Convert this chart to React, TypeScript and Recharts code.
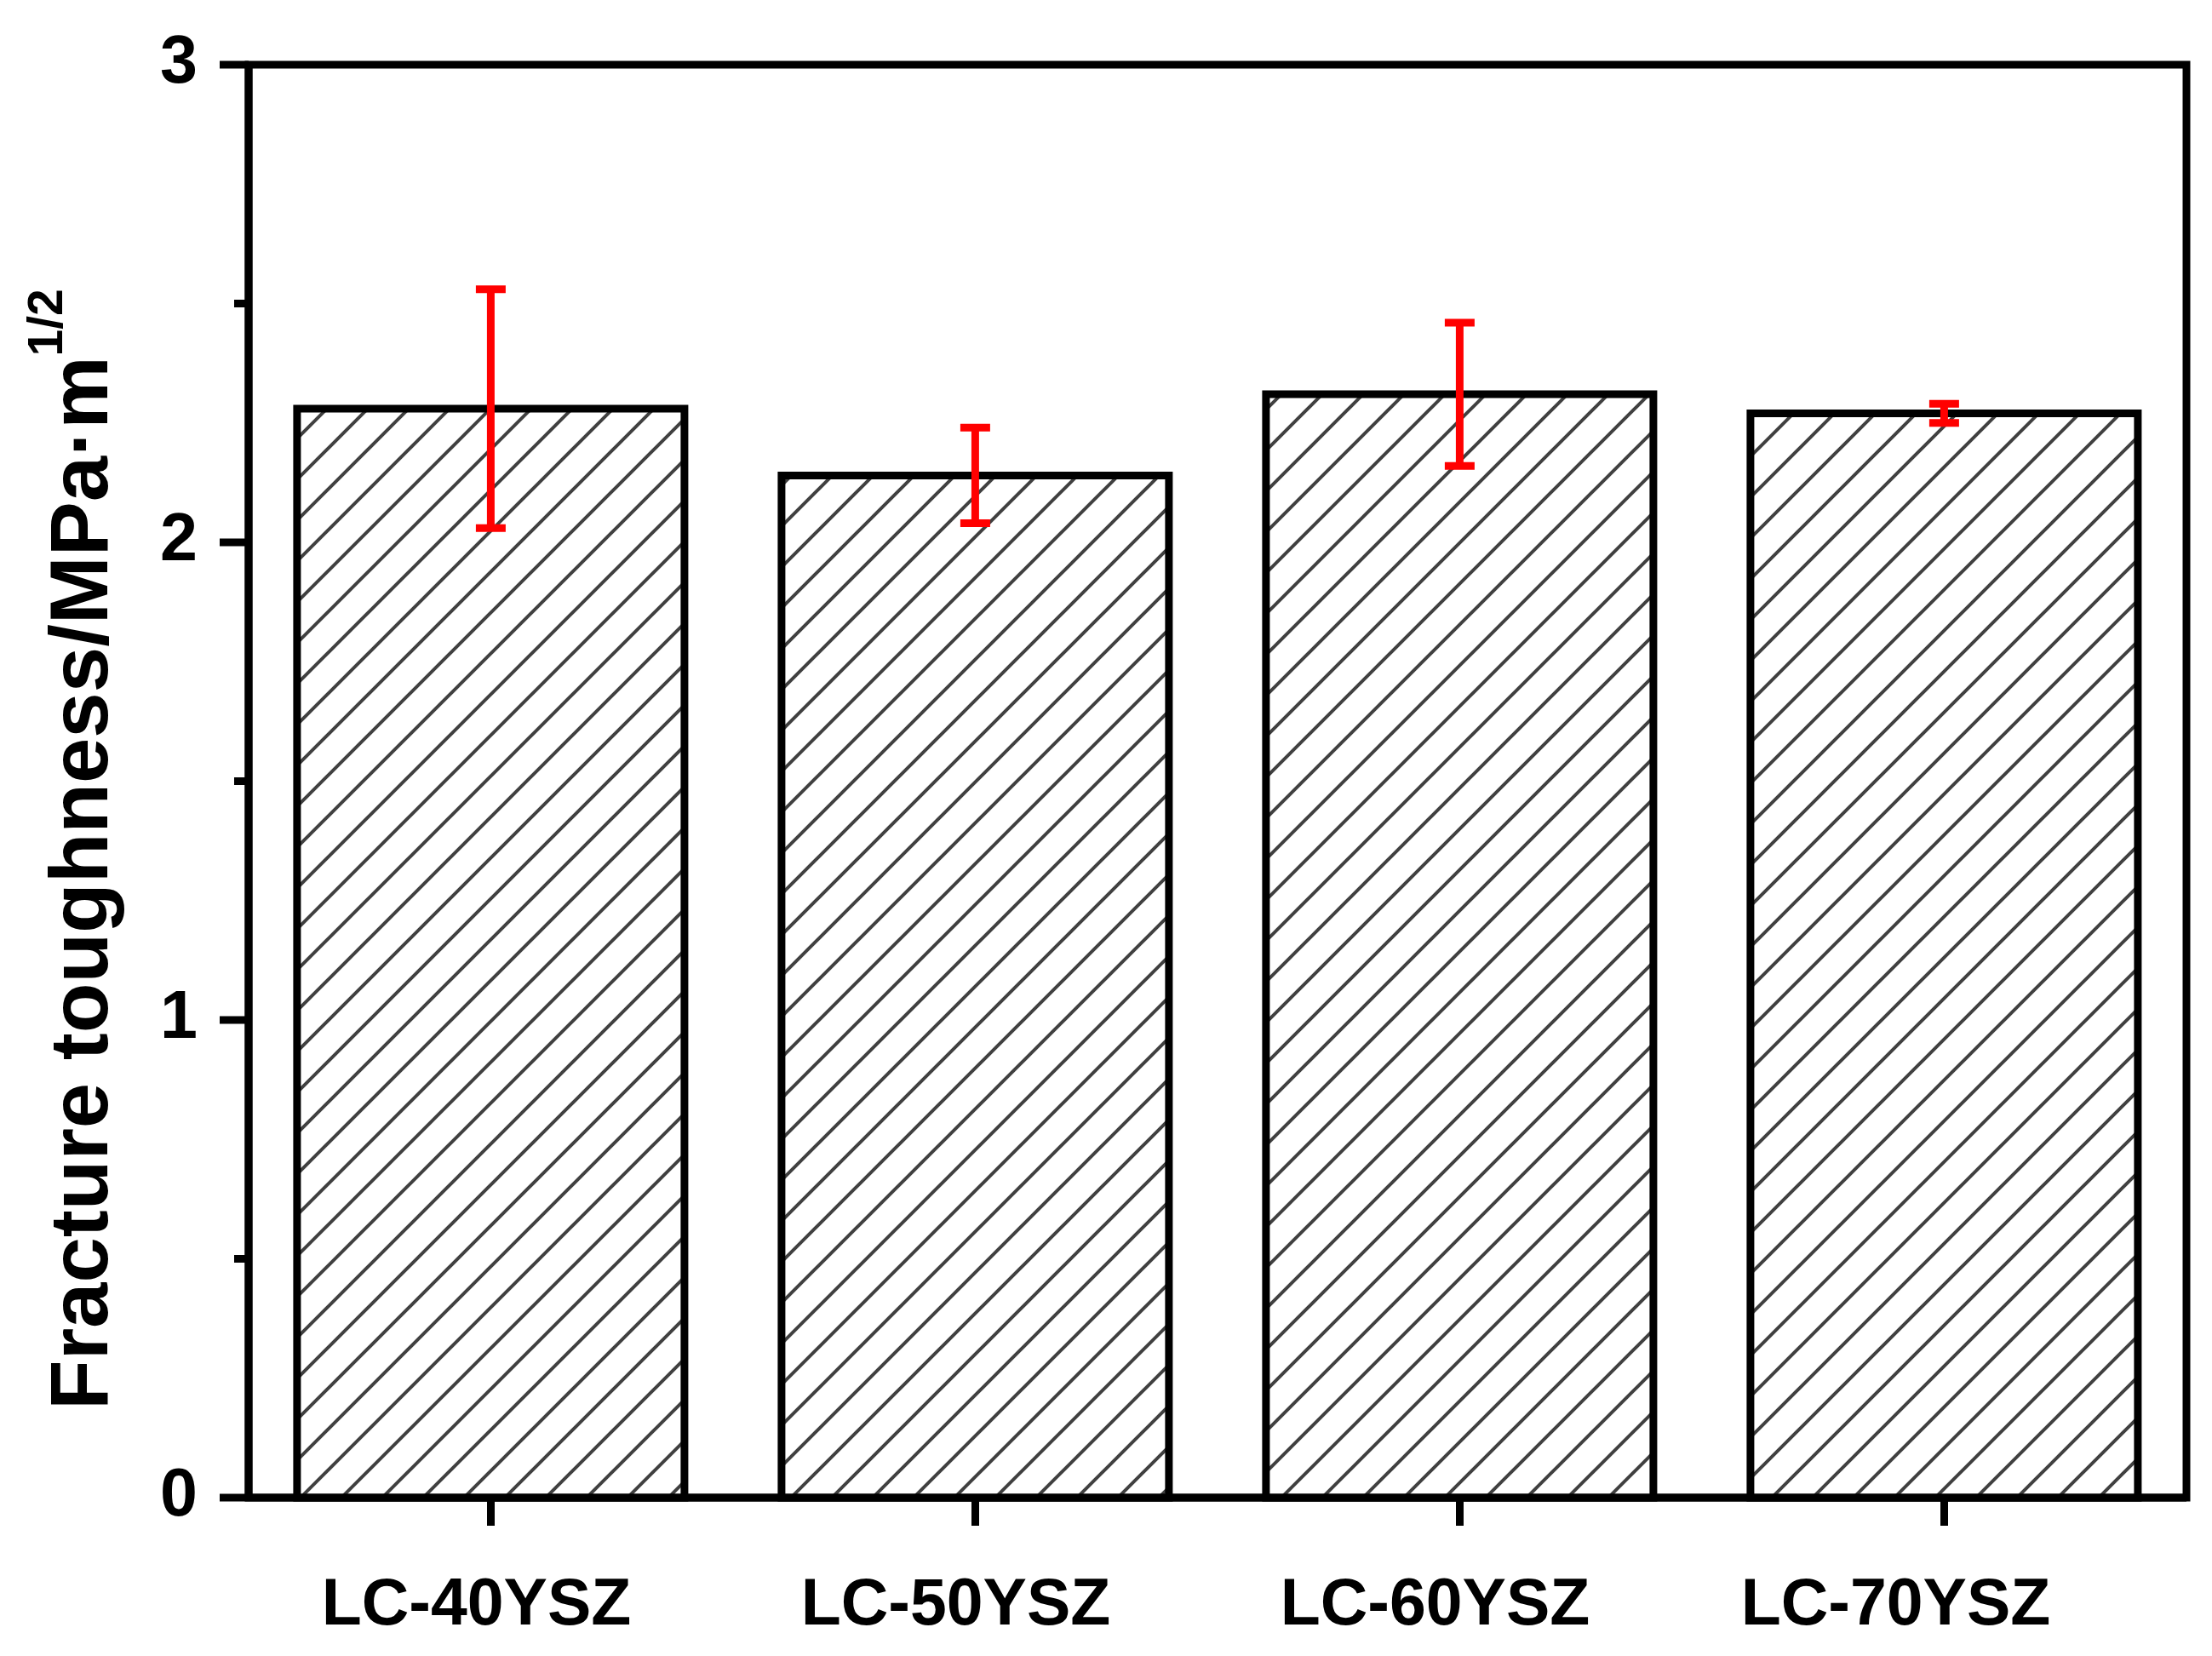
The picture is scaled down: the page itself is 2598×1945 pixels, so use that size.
import React from 'react';
import { BarChart, Bar, XAxis, YAxis, ErrorBar, ReferenceArea } from 'recharts';

const categories = ['LC-40YSZ', 'LC-50YSZ', 'LC-60YSZ', 'LC-70YSZ'];
const toughness = [2.28, 2.14, 2.31, 2.27];
const toughnessErr = [0.25, 0.1, 0.15, 0.02];
const yTicks = [0, 0.5, 1, 1.5, 2, 2.5, 3];
const yTickLabels = ['0', '', '1', '', '2', '', '3'];

const data = categories.map((name, i) => ({ name, value: toughness[i], err: toughnessErr[i] }));

const FONT = "Arial, 'Liberation Sans', Helvetica, sans-serif";
const labelShift = [-17, -23, -29, -57];

const YTick = (props: any) => {
  const { x, y, index } = props;
  const major = yTickLabels[index] !== '';
  const len = major ? 34 : 17;
  return (
    <g>
      <line x1={x - len} y1={y} x2={x} y2={y} stroke="#000" strokeWidth={9} />
      {major && (
        <text x={x - 60} y={y + 21} textAnchor="end" fontFamily={FONT} fontWeight="bold" fontSize={79} fill="#000">
          {yTickLabels[index]}
        </text>
      )}
    </g>
  );
};

const XTick = (props: any) => {
  const { x, y, payload, index } = props;
  return (
    <text x={x + (labelShift[index] || 0)} y={y + 114} textAnchor="middle" fontFamily={FONT} fontWeight="bold" fontSize={77} fill="#000">
      {payload.value}
    </text>
  );
};

const YTitle = () => (
  <text transform="translate(126,1656) rotate(-90)" fontFamily={FONT} fontWeight="bold" fontSize={96} fill="#000">
    Fracture toughness/MPa·m
    <tspan fontSize={57} dy={-53}>1/2</tspan>
  </text>
);

export default function App() {
  return (
    <div style={{ position: 'absolute', left: 0, top: 0, width: 2598, height: 1945, background: '#fff' }}>
      <BarChart
        width={2598}
        height={1945}
        data={data}
        margin={{ top: 76, right: 30, bottom: 0, left: 0 }}
        barCategoryGap="10%"
      >
        <defs>
          <pattern id="hatch" patternUnits="userSpaceOnUse" width={48} height={48}>
            <rect x={0} y={0} width={48} height={48} fill="#fff" />
            <path d="M-12,12 L12,-12 M0,48 L48,0 M36,60 L60,36" stroke="#404040" strokeWidth={4} />
          </pattern>
        </defs>
        <XAxis
          dataKey="name"
          type="category"
          height={186}
          axisLine={{ stroke: '#000', strokeWidth: 9 }}
          tickLine={{ stroke: '#000', strokeWidth: 9 }}
          tickSize={33}
          tick={<XTick />}
          interval={0}
        />
        <YAxis
          type="number"
          domain={[0, 3]}
          ticks={yTicks}
          width={292}
          axisLine={{ stroke: '#000', strokeWidth: 9 }}
          tickLine={false}
          tickSize={0}
          tickMargin={0}
          tick={<YTick />}
          interval={0}
          label={<YTitle />}
        />
        <ReferenceArea y1={0} y2={3} fill="none" fillOpacity={0} stroke="#000" strokeWidth={9} strokeLinecap="square" ifOverflow="visible" />
        <Bar dataKey="value" fill="url(#hatch)" stroke="#000" strokeWidth={9} isAnimationActive={false}>
          <ErrorBar dataKey="err" direction="y" width={17.5} stroke="#ff0000" strokeWidth={9} isAnimationActive={false} />
        </Bar>
      </BarChart>
    </div>
  );
}
